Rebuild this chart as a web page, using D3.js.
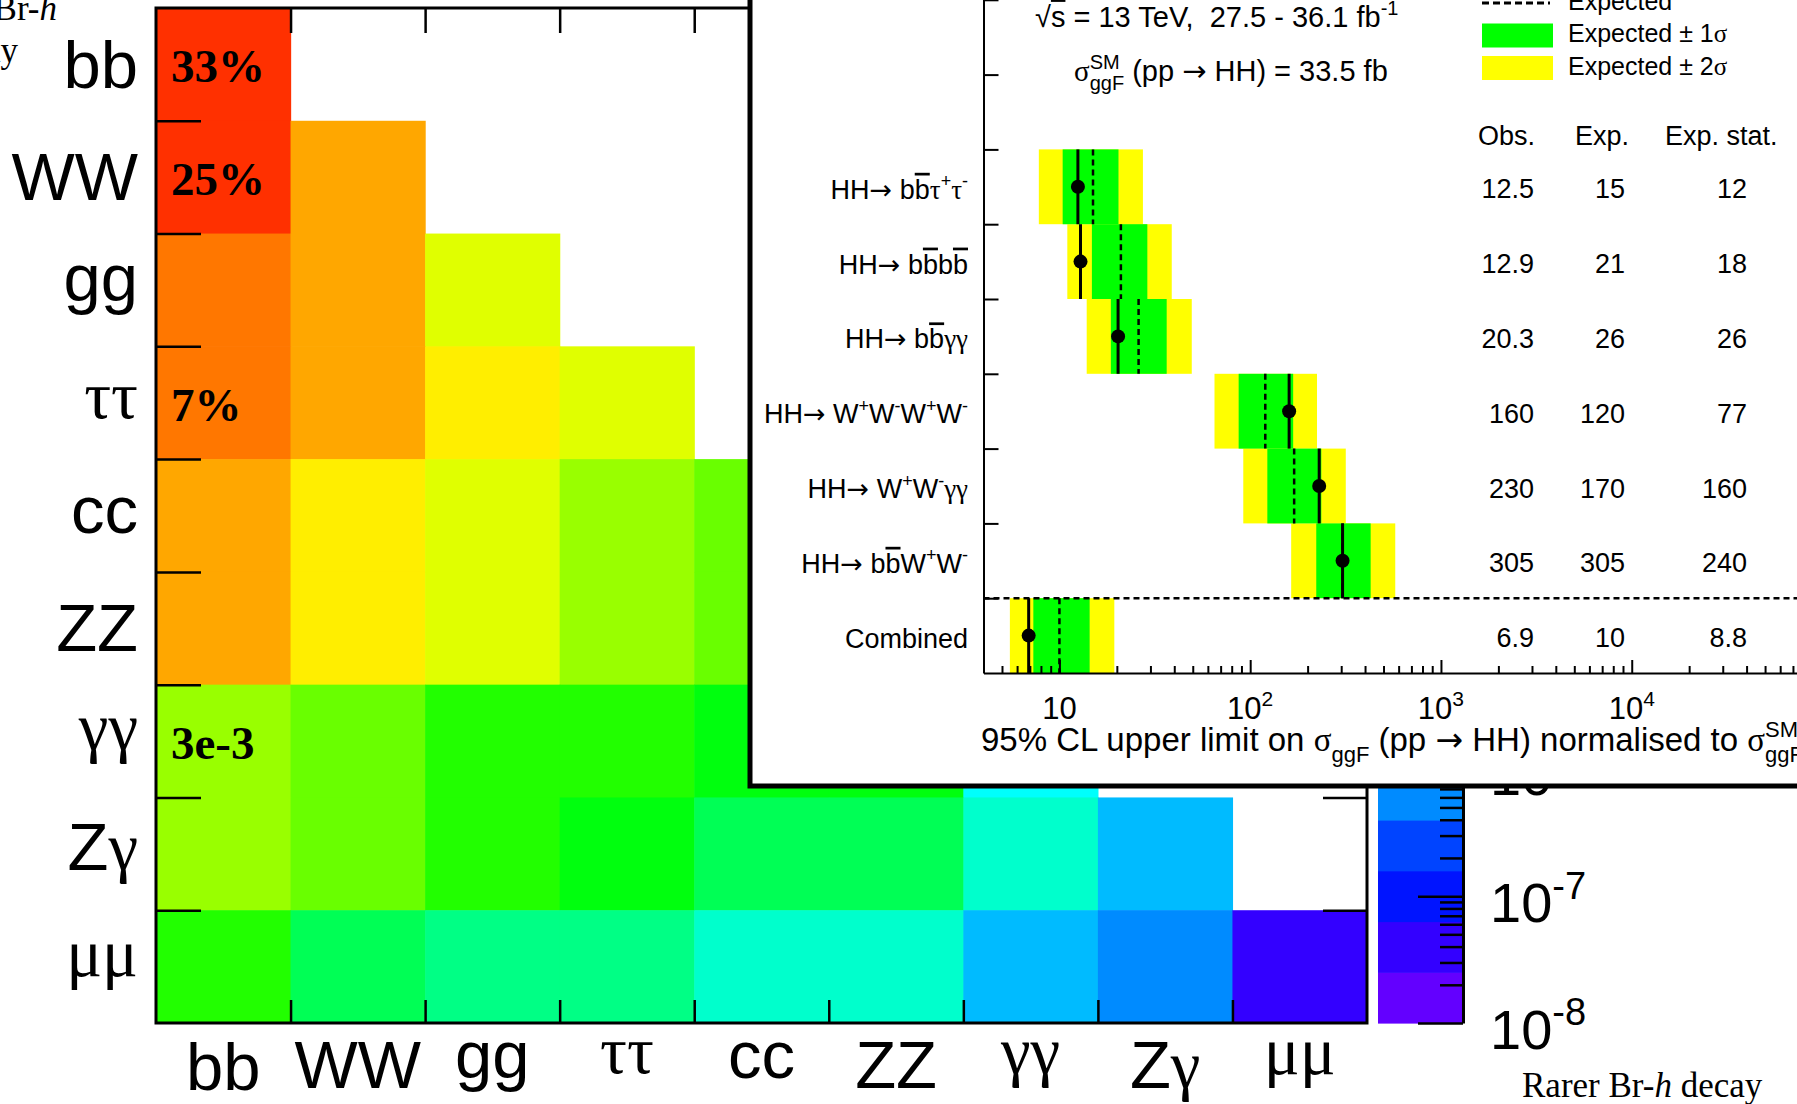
<!DOCTYPE html>
<html>
<head>
<meta charset="utf-8">
<script src="https://cdn.jsdelivr.net/npm/d3@7"></script>
<style>
html, body { margin: 0; padding: 0; background: #fff; overflow: hidden; }
svg { display: block; }
text { white-space: pre; }
</style>
</head>
<body>
<svg id="chart" width="1797" height="1104"></svg>
<script>
// ---- Heatmap data: Br(HH -> XY) ----
const decays = ['bb', 'WW', 'gg', 'ττ', 'cc', 'ZZ', 'γγ', 'Zγ', 'μμ'];

// lower triangle, row by row (row decay x column decay)
const brRows = [
    [0.336],
    [0.250, 0.0463],
    [0.0950, 0.0352, 0.00669],
    [0.0727, 0.0269, 0.0102, 0.0041],
    [0.0335, 0.0124, 0.00472, 0.00361, 0.00083],
    [0.0306, 0.0114, 0.00432, 0.00330, 0.00152, 0.000697],
    [0.00264, 0.000977, 0.000371, 0.000284, 0.000131, 0.000120, 5.2e-6],
    [0.00179, 0.000663, 0.000252, 0.000193, 8.9e-5, 8.1e-5, 7.0e-6, 2.4e-6],
    [0.000252, 9.3e-5, 3.6e-5, 2.7e-5, 1.25e-5, 1.15e-5, 1.02e-6, 6.7e-7, 4.7e-8]
];

const cellNotes = [
    { row: 'bb', col: 'bb', text: '33%' },
    { row: 'WW', col: 'bb', text: '25%' },
    { row: 'ττ', col: 'bb', text: '7%' },
    { row: 'γγ', col: 'bb', text: '3e-3' }
];

// colour bar range (log) and levels
const brMin = 1e-8;
const brMax = 1;
const cbDecades = [-8, -7, -6, -5, -4, -3, -2, -1, 0];

// ---- Inset data: HH limits, bottom row first ----
const channels = [
    'Combined',
    'HH→ b#bar{b}W^{+}W^{-}',
    'HH→ W^{+}W^{-}γγ',
    'HH→ W^{+}W^{-}W^{+}W^{-}',
    'HH→ b#bar{b}γγ',
    'HH→ b#bar{b}b#bar{b}',
    'HH→ b#bar{b}τ^{+}τ^{-}'
];
const obsLimit = [6.9, 305, 230, 160, 20.3, 12.9, 12.5];
const expLimit = [10, 305, 170, 120, 26, 21, 15];
const expStat  = [8.8, 240, 160, 77, 26, 18, 12];
const band1Lo  = [7.3, 222, 123, 87, 18.6, 14.8, 10.4];
const band1Hi  = [14.4, 428, 236, 168, 36.5, 28.9, 20.4];
const band2Lo  = [5.5, 164, 92, 65, 13.9, 11.0, 7.8];
const band2Hi  = [19.4, 576, 317, 224, 49.4, 38.8, 27.4];

const xMajors = [10, 100, 1000, 10000, 100000];
const tableHeads = ['Obs.', 'Exp.', 'Exp. stat.'];

// ---- styles ----
const SANS = '"Liberation Sans", Arial, Helvetica, sans-serif';
const SERIF = '"Liberation Serif", "Times New Roman", serif';
const ARROWS = '"DejaVu Sans", sans-serif';
const GREEK = /[\u0370-\u03ff]/;
const ARROW = /[\u2190-\u21ff]/;
const RUNS = /[\u0370-\u03ff]+|[\u2190-\u21ff]+|[^\u0370-\u03ff\u2190-\u21ff]+/g;
// ROOT style rainbow, 20 contour levels
const palette = ['#6300ff', '#3300ff', '#0014ff', '#0044ff', '#008bff', '#00bbff', '#00fffc',
    '#00ffcc', '#00ff85', '#00ff55', '#00ff0e', '#22ff00', '#69ff00', '#99ff00', '#e0ff00',
    '#ffee00', '#ffa700', '#ff7700', '#ff3000', '#ff0000'];
const BAND1 = '#00ff00';
const BAND2 = '#ffff00';

const svg = d3.select('#chart');
const measureCtx = document.createElement('canvas').getContext('2d');

const fontFor = r => GREEK.test(r) ? SERIF : ARROW.test(r) ? ARROWS : SANS;

// split a tiny ROOT-like latex string into segments
function parseLatex(str) {
    const segs = [];
    let buf = '';
    let i = 0;
    const flush = () => { if (buf) { segs.push({ t: buf, mode: 'n', bar: false }); buf = ''; } };
    while (i < str.length) {
        const c = str[i];
        if ((c === '^' || c === '_') && str[i + 1] === '{') {
            flush();
            const end = str.indexOf('}', i);
            segs.push({ t: str.slice(i + 2, end), mode: c === '^' ? 'sup' : 'sub', bar: false });
            i = end + 1;
        } else if (str.startsWith('#bar{', i)) {
            flush();
            const end = str.indexOf('}', i);
            segs.push({ t: str.slice(i + 5, end), mode: 'n', bar: true });
            i = end + 1;
        } else {
            buf += c;
            i++;
        }
    }
    flush();
    return segs;
}

// append tspans for a latex string to a text selection
function drawLatex(sel, str, size) {
    let shift = 0, pendingDx = 0, prev = null;
    parseLatex(str).forEach(s => {
        const fs = s.mode === 'n' ? size : Math.round(size * 0.68);
        const target = s.mode === 'sup' ? -0.42 * size : s.mode === 'sub' ? 0.32 * size : 0;
        const runs = s.t.match(RUNS) || [];
        const spans = runs.map(r => {
            const sp = sel.append('tspan').text(r)
                .attr('font-size', fs)
                .attr('font-family', fontFor(r));
            if (s.bar) sp.style('text-decoration', 'overline');
            return sp;
        });
        if (!spans.length) return;
        if (target - shift) spans[0].attr('dy', target - shift);
        shift = target;
        let dx = pendingDx;
        pendingDx = 0;
        const stacked = s.mode === 'sub' && prev && prev.mode === 'sup';
        if (stacked) dx -= prev.width;
        if (dx) spans[0].attr('dx', dx);
        s.width = d3.sum(spans, sp => sp.node().getComputedTextLength());
        if (stacked) pendingDx = Math.max(0, prev.width - s.width);
        prev = s;
    });
    return sel;
}

// glyph extents of a decay label (sans letters, serif greek)
function glyphBox(label, size) {
    let asc = 0, desc = 0;
    label.match(RUNS).forEach(r => {
        measureCtx.font = `${size}px ${fontFor(r)}`;
        const m = measureCtx.measureText(r);
        asc = Math.max(asc, m.actualBoundingBoxAscent);
        desc = Math.max(desc, m.actualBoundingBoxDescent);
    });
    return { asc, desc };
}

// ===================== Heatmap =====================
const hm = { left: 156, top: 8, right: 1367, bottom: 1023 };
const colX = d3.scaleBand().domain(decays).range([hm.left, hm.right]);
const rowY = d3.scaleBand().domain(decays).range([hm.top, hm.bottom]);
const edgeX = d3.scaleLinear().domain([0, decays.length]).range([hm.left, hm.right]);
const edgeY = d3.scaleLinear().domain([0, decays.length]).range([hm.top, hm.bottom]);

const colour = d3.scaleQuantize()
    .domain([Math.log10(brMin), Math.log10(brMax)])
    .range(palette);

const cells = brRows.flatMap((vals, r) => vals.map((v, c) => ({ row: decays[r], col: decays[c], v })));

svg.append('g')
    .selectAll('rect')
    .data(cells)
    .join('rect')
    .attr('x', d => colX(d.col))
    .attr('y', d => rowY(d.row))
    .attr('width', colX.bandwidth() + 0.6)
    .attr('height', rowY.bandwidth() + 0.6)
    .attr('fill', d => colour(Math.log10(d.v)));

// cell annotations
svg.append('g')
    .selectAll('text')
    .data(cellNotes)
    .join('text')
    .attr('x', d => colX(d.col) + 15)
    .attr('y', d => rowY(d.row) + rowY.bandwidth() * 0.66)
    .attr('font-family', SERIF)
    .attr('font-weight', 'bold')
    .attr('font-size', 47)
    .text(d => d.text);

// tick marks on the four sides (at bin edges)
const innerEdges = d3.range(1, decays.length);
const tickStyle = g => {
    g.select('.domain').remove();
    g.selectAll('text').remove();
    g.selectAll('line').attr('stroke', '#000').attr('stroke-width', 2.5);
};
svg.append('g').attr('transform', `translate(${hm.left},0)`)
    .call(d3.axisLeft(edgeY).tickValues(innerEdges).tickSize(-45).tickFormat(''))
    .call(tickStyle);
svg.append('g').attr('transform', `translate(${hm.right},0)`)
    .call(d3.axisRight(edgeY).tickValues(innerEdges).tickSize(-44).tickFormat(''))
    .call(tickStyle);
svg.append('g').attr('transform', `translate(0,${hm.top})`)
    .call(d3.axisTop(edgeX).tickValues(innerEdges).tickSize(-25).tickFormat(''))
    .call(tickStyle);
svg.append('g').attr('transform', `translate(0,${hm.bottom})`)
    .call(d3.axisBottom(edgeX).tickValues(innerEdges).tickSize(-23).tickFormat(''))
    .call(tickStyle);

svg.append('rect')
    .attr('x', hm.left).attr('y', hm.top)
    .attr('width', hm.right - hm.left).attr('height', hm.bottom - hm.top)
    .attr('fill', 'none').attr('stroke', '#000').attr('stroke-width', 3);

// decay labels
const LABEL_SIZE = 67;
decays.forEach(lab => {
    const box = glyphBox(lab, LABEL_SIZE);
    const yl = svg.append('text')
        .attr('x', 138)
        .attr('y', rowY(lab) + rowY.bandwidth() / 2 + (box.asc - box.desc) / 2)
        .attr('text-anchor', 'end');
    drawLatex(yl, lab, LABEL_SIZE);
    const xl = svg.append('text')
        .attr('x', colX(lab) + colX.bandwidth() / 2)
        .attr('y', 1042 + box.asc)
        .attr('text-anchor', 'middle');
    drawLatex(xl, lab, LABEL_SIZE);
});

// ===================== Colour bar =====================
const cb = { x0: 1378, x1: 1463 };
const cbY = d3.scaleLog().domain([brMin, brMax]).range([hm.bottom, hm.top]);
const levelEdges = [colour.domain()[0], ...colour.thresholds(), colour.domain()[1]];

svg.append('g')
    .selectAll('rect')
    .data(d3.pairs(levelEdges))
    .join('rect')
    .attr('x', cb.x0)
    .attr('width', cb.x1 - cb.x0)
    .attr('y', d => cbY(10 ** d[1]))
    .attr('height', d => cbY(10 ** d[0]) - cbY(10 ** d[1]) + 0.6)
    .attr('fill', d => colour((d[0] + d[1]) / 2));

const cbMinor = cbDecades.slice(0, -1).flatMap(e => d3.range(2, 10).map(k => k * 10 ** e));
svg.append('g').attr('transform', `translate(${cb.x1},0)`)
    .call(d3.axisRight(cbY).tickValues(cbMinor).tickSize(-23).tickFormat('').tickSizeOuter(0))
    .call(g => g.selectAll('text').remove())
    .call(g => g.selectAll('line').attr('stroke', '#000').attr('stroke-width', 2.5))
    .call(g => g.select('.domain').attr('stroke', '#000').attr('stroke-width', 3));
svg.append('g').attr('transform', `translate(${cb.x1},0)`)
    .call(d3.axisRight(cbY).tickValues(cbDecades.map(e => 10 ** e)).tickSize(-45).tickFormat('').tickSizeOuter(0))
    .call(g => g.select('.domain').remove())
    .call(g => g.selectAll('text').remove())
    .call(g => g.selectAll('line').attr('stroke', '#000').attr('stroke-width', 2.5));

cbDecades.filter(e => e < 0).forEach(e => {
    const t = svg.append('text')
        .attr('x', 1490)
        .attr('y', cbY(10 ** e) + 26);
    drawLatex(t, `10^{${e}}`, 56);
});

// side notes
const topNote = svg.append('text').attr('font-family', SERIF).attr('font-size', 35).attr('text-anchor', 'end');
topNote.append('tspan').attr('x', 57).attr('y', 20).text('Larger Br-');
topNote.append('tspan').attr('font-style', 'italic').text('h');
svg.append('text').attr('font-family', SERIF).attr('font-size', 35).attr('text-anchor', 'end')
    .attr('x', 18).attr('y', 62).text('decay');

const bottomNote = svg.append('text').attr('font-family', SERIF).attr('font-size', 35)
    .attr('x', 1522).attr('y', 1097);
bottomNote.append('tspan').text('Rarer Br-');
bottomNote.append('tspan').attr('font-style', 'italic').text('h');
bottomNote.append('tspan').text(' decay');

// ===================== Inset =====================
svg.append('rect')
    .attr('x', 750).attr('y', -60)
    .attr('width', 1200).attr('height', 786 + 60)
    .attr('fill', '#fff').attr('stroke', '#000').attr('stroke-width', 5);

const x = d3.scaleLog().domain([4, 1e5]).range([983.5, 1822.5]);
const y = d3.scaleLinear().domain([0, 11]).range([673, 673 - 11 * 74.8]);
const rows = channels.map((name, i) => ({
    name, i,
    obs: obsLimit[i], exp: expLimit[i], stat: expStat[i],
    lo1: band1Lo[i], hi1: band1Hi[i], lo2: band2Lo[i], hi2: band2Hi[i]
}));
const binTop = d => y(d.i + 1);
const binH = d => y(d.i) - y(d.i + 1);
const binMid = d => y(d.i + 0.5);

const plot = svg.append('g');
plot.selectAll('.band2').data(rows).join('rect')
    .attr('class', 'band2')
    .attr('x', d => x(d.lo2)).attr('width', d => x(d.hi2) - x(d.lo2))
    .attr('y', binTop).attr('height', binH)
    .attr('fill', BAND2);
plot.selectAll('.band1').data(rows).join('rect')
    .attr('class', 'band1')
    .attr('x', d => x(d.lo1)).attr('width', d => x(d.hi1) - x(d.lo1))
    .attr('y', binTop).attr('height', binH)
    .attr('fill', BAND1);
plot.selectAll('.expline').data(rows).join('line')
    .attr('class', 'expline')
    .attr('x1', d => x(d.exp)).attr('x2', d => x(d.exp))
    .attr('y1', binTop).attr('y2', d => y(d.i))
    .attr('stroke', '#000').attr('stroke-width', 2.5).attr('stroke-dasharray', '6,4');
plot.selectAll('.obsline').data(rows).join('line')
    .attr('class', 'obsline')
    .attr('x1', d => x(d.obs)).attr('x2', d => x(d.obs))
    .attr('y1', binTop).attr('y2', d => y(d.i))
    .attr('stroke', '#000').attr('stroke-width', 3);
plot.selectAll('circle').data(rows).join('circle')
    .attr('cx', d => x(d.obs)).attr('cy', binMid)
    .attr('r', 7).attr('fill', '#000');

// separator between channels and combination
plot.append('line')
    .attr('x1', x.range()[0]).attr('x2', 1900)
    .attr('y1', y(1)).attr('y2', y(1))
    .attr('stroke', '#000').attr('stroke-width', 2.5).attr('stroke-dasharray', '6,4');

// axes
svg.append('g').attr('transform', `translate(${x.range()[0]},0)`)
    .call(d3.axisLeft(y).tickValues(d3.range(1, 11)).tickSize(-15).tickFormat('').tickSizeOuter(0))
    .call(g => g.selectAll('text').remove())
    .call(g => g.selectAll('line, .domain').attr('stroke', '#000').attr('stroke-width', 2));

const xMinor = [1, 10, 100, 1000, 10000].flatMap(d => d3.range(2, 10).map(k => k * d))
    .filter(v => v > x.domain()[0] && v < x.domain()[1]);
svg.append('g').attr('transform', `translate(0,${y(0)})`)
    .call(d3.axisBottom(x).tickValues(xMinor).tickSize(-7).tickFormat('').tickSizeOuter(0))
    .call(g => g.selectAll('text').remove())
    .call(g => g.selectAll('line, .domain').attr('stroke', '#000').attr('stroke-width', 2));
svg.append('g').attr('transform', `translate(0,${y(0)})`)
    .call(d3.axisBottom(x).tickValues(xMajors).tickSize(-13).tickFormat('').tickSizeOuter(0))
    .call(g => g.select('.domain').remove())
    .call(g => g.selectAll('text').remove())
    .call(g => g.selectAll('line').attr('stroke', '#000').attr('stroke-width', 2));

xMajors.forEach(v => {
    const e = Math.round(Math.log10(v));
    const t = svg.append('text')
        .attr('x', x(v)).attr('y', 719)
        .attr('text-anchor', 'middle');
    drawLatex(t, e === 1 ? '10' : `10^{${e}}`, 31);
});

drawLatex(svg.append('text').attr('x', 981).attr('y', 751),
    '95% CL upper limit on σ_{ggF} (pp → HH) normalised to σ^{SM}_{ggF}', 33);

// channel labels
rows.forEach(d => {
    const t = svg.append('text')
        .attr('x', 968).attr('y', binMid(d) + 12)
        .attr('text-anchor', 'end');
    drawLatex(t, d.name, 27);
});

// limits table
const tableRight = [1534, 1625, 1747];
const tableLeft = [1478, 1575, 1665];
tableHeads.forEach((h, k) => {
    svg.append('text').attr('x', tableLeft[k]).attr('y', 145)
        .attr('font-family', SANS).attr('font-size', 27).text(h);
});
[obsLimit, expLimit, expStat].forEach((col, k) => {
    svg.append('g')
        .selectAll('text')
        .data(rows)
        .join('text')
        .attr('x', tableRight[k])
        .attr('y', d => binMid(d) + 11.5)
        .attr('text-anchor', 'end')
        .attr('font-family', SANS)
        .attr('font-size', 27)
        .text(d => String(col[d.i]));
});

// header texts
drawLatex(svg.append('text').attr('x', 1035).attr('y', 27),
    '√#bar{s} = 13 TeV,  27.5 - 36.1 fb^{-1}', 29);
drawLatex(svg.append('text').attr('x', 1074).attr('y', 81),
    'σ^{SM}_{ggF} (pp → HH) = 33.5 fb', 29);

// legend
const legend = svg.append('g');
legend.append('line')
    .attr('x1', 1482).attr('x2', 1550).attr('y1', 3).attr('y2', 3)
    .attr('stroke', '#000').attr('stroke-width', 3).attr('stroke-dasharray', '7,4');
legend.append('rect').attr('x', 1482).attr('y', 23.5).attr('width', 71).attr('height', 24).attr('fill', BAND1);
legend.append('rect').attr('x', 1482).attr('y', 56).attr('width', 71).attr('height', 24).attr('fill', BAND2);
drawLatex(legend.append('text').attr('x', 1568).attr('y', 9.5), 'Expected', 25);
drawLatex(legend.append('text').attr('x', 1568).attr('y', 42), 'Expected ± 1σ', 25);
drawLatex(legend.append('text').attr('x', 1568).attr('y', 74.5), 'Expected ± 2σ', 25);
</script>
</body>
</html>
